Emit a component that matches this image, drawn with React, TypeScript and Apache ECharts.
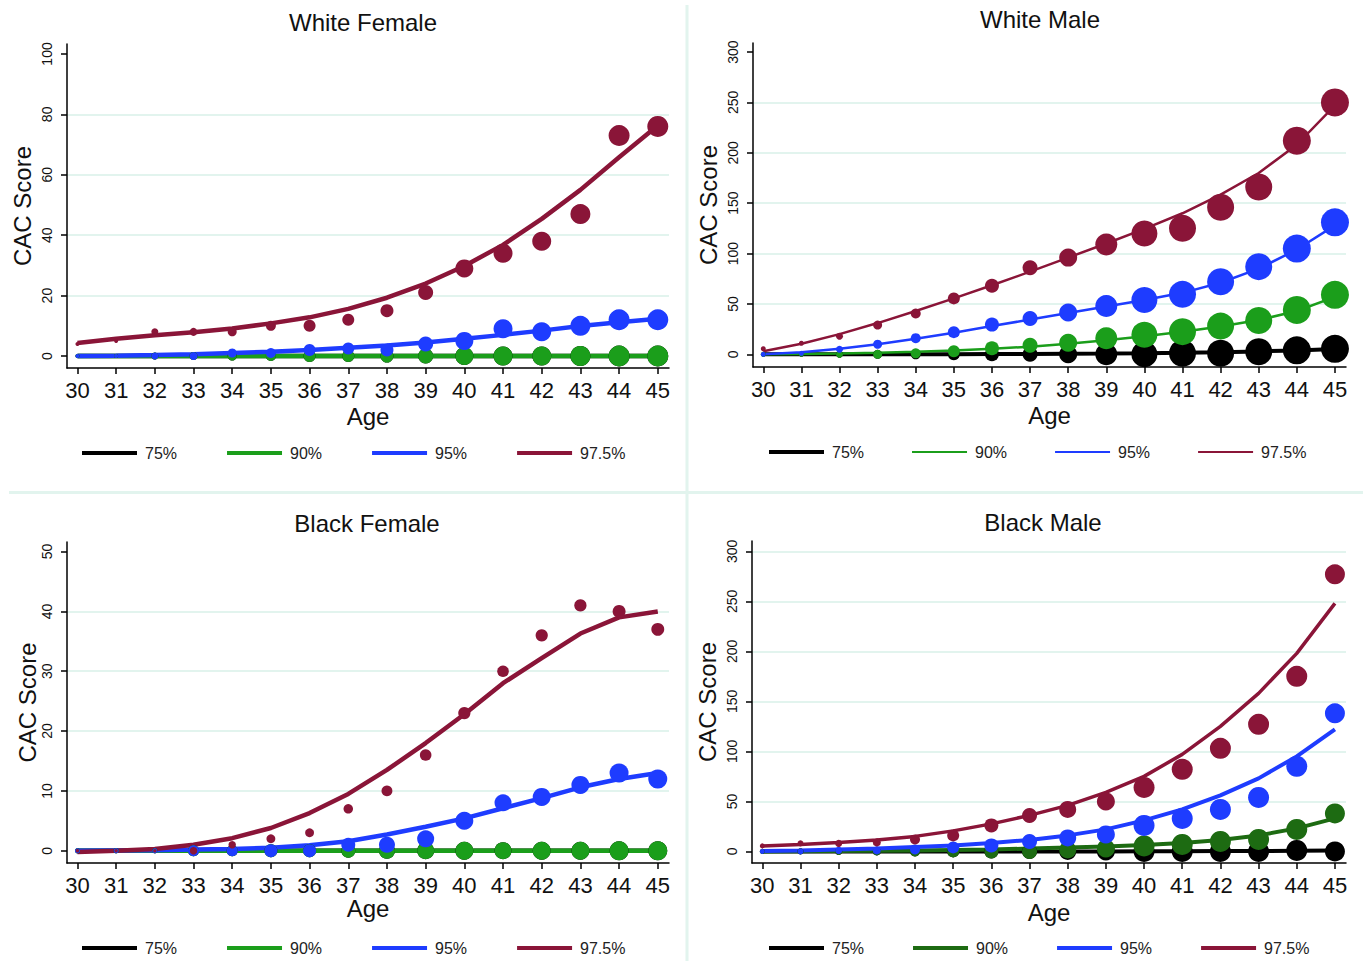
import React, { useEffect, useRef } from 'react';
import * as echarts from 'echarts';

// ---------- data ----------
const ages = [30, 31, 32, 33, 34, 35, 36, 37, 38, 39, 40, 41, 42, 43, 44, 45];
const percentiles = ['75%', '90%', '95%', '97.5%'];

// White Female
const wf75Obs = [0, 0, 0, 0, 0, 0, 0, 0, 0, 0, 0, 0, 0, 0, 0, 0];
const wf75Fit = [0, 0, 0, 0, 0, 0, 0, 0, 0, 0, 0, 0, 0, 0, 0, 0];
const wf90Obs = [0, 0, 0, 0, 0, 0, 0, 0, 0, 0, 0, 0, 0, 0, 0, 0];
const wf90Fit = [0, 0, 0, 0, 0, 0, 0, 0, 0, 0, 0, 0, 0, 0, 0, 0];
const wf95Obs = [0, 0, 0, 0, 1, 1, 2, 2.5, 2, 4, 5, 9, 8, 10, 12, 12];
const wf95Fit = [0, 0.1, 0.3, 0.6, 1, 1.4, 2, 2.7, 3.5, 4.5, 5.7, 7, 8.4, 9.9, 11.2, 12.3];
const wf975Obs = [4, 5, 8, 8, 8, 10, 10, 12, 15, 21, 29, 34, 38, 47, 73, 76];
const wf975Fit = [4.3, 5.7, 6.9, 7.9, 9.1, 10.8, 12.8, 15.6, 19.3, 24, 29.8, 36.8, 45.4, 55, 65.8, 76.3];
const wfMarker = [4, 4, 7, 8, 9, 10, 12, 12, 13, 15, 18, 19, 19, 20, 21, 21];

// White Male
const wm75Obs = [0, 0, 0, 0, 0, 0, 0, 0, 0, 0, 0, 1, 1, 2.5, 4, 5.5];
const wm75Fit = [0, 0, 0, 0, 0, 0.1, 0.2, 0.3, 0.5, 0.7, 1, 1.5, 2.1, 2.9, 3.9, 5.2];
const wm90Obs = [0, 0, 0, 0, 1, 3, 6, 9, 11.5, 16, 19.5, 22.5, 28, 33.5, 44, 59];
const wm90Fit = [0, 0.3, 0.8, 1.5, 2.5, 3.8, 5.5, 7.6, 10.5, 14, 18, 22.5, 27.5, 34, 43, 57];
const wm95Obs = [0, 1, 5, 10, 16, 22, 29.5, 35.5, 41.5, 48, 54, 59.5, 72, 87, 105, 131];
const wm95Fit = [0, 2, 5.5, 10, 15.5, 21.5, 28, 34.5, 41, 47.5, 54, 61, 71, 85, 104, 128];
const wm975Obs = [5.5, 11, 18, 29, 40.5, 55.5, 68, 86, 96, 109, 120, 125, 146, 166, 212, 250];
const wm975Fit = [3, 10.5, 20, 31, 43, 55.5, 68.5, 82, 96, 110, 124.5, 140, 158.5, 180, 208, 247];
const wmMarker = [5, 5, 7, 9, 10, 12, 14, 15, 18, 22, 26, 27, 27, 27, 28, 28];

// Black Female
const bf75Obs = [0, 0, 0, 0, 0, 0, 0, 0, 0, 0, 0, 0, 0, 0, 0, 0];
const bf75Fit = [0, 0, 0, 0, 0, 0, 0, 0, 0, 0, 0, 0, 0, 0, 0, 0];
const bf90Obs = [0, 0, 0, 0, 0, 0, 0, 0, 0, 0, 0, 0, 0, 0, 0, 0];
const bf90Fit = [0, 0, 0, 0, 0, 0, 0, 0, 0, 0, 0, 0, 0, 0, 0, 0];
const bf95Obs = [0, 0, 0, 0, 0, 0, 0, 1, 1, 2, 5, 8, 9, 11, 13, 12];
const bf95Fit = [0, 0.05, 0.1, 0.2, 0.3, 0.5, 0.9, 1.6, 2.7, 4, 5.4, 7.1, 8.8, 10.6, 12, 13];
const bf975Obs = [0, 0, 0, 0, 1, 2, 3, 7, 10, 16, 23, 30, 36, 41, 40, 37];
const bf975Fit = [-0.2, 0, 0.3, 1, 2.1, 3.8, 6.3, 9.5, 13.5, 18, 22.8, 28, 32.2, 36.3, 39, 40];
const bfMarker = [5, 5, 5, 11, 11, 13, 13, 14, 16, 17, 18, 17, 18, 18, 19, 19];

// Black Male
const bm75Obs = [0, 0, 0, 0, 0, 0, 0, 0, 0, 0, 0, 0, 0, 0, 1, 0];
const bm75Fit = [0, 0, 0, 0, 0, 0, 0, 0, 0, 0, 0.1, 0.2, 0.3, 0.4, 0.6, 0.8];
const bm90Obs = [0, 0, 0, 0, 0, 0, 0, 0, 1.5, 3, 5.5, 7, 10, 12, 22, 38];
const bm90Fit = [0, 0.2, 0.4, 0.7, 1, 1.5, 2, 2.8, 3.8, 5, 6.5, 8.5, 11.5, 16, 23, 33];
const bm95Obs = [0, 0, 1, 1, 2, 4, 6, 10, 13.5, 17, 26, 33, 42, 54, 85, 138];
const bm95Fit = [0.5, 1, 2, 3, 4.5, 6, 8.5, 11.5, 16, 22, 31, 42, 56, 73, 95, 122];
const bm975Obs = [5.5, 8, 8, 9, 12, 16, 26, 36, 42, 50, 64, 82, 103, 127, 175, 277];
const bm975Fit = [5.5, 7, 9, 11.5, 15, 20.5, 27.5, 36, 46, 59, 75, 97, 125, 158, 198, 248];
const bmMarker = [5, 6, 7, 8, 10, 12, 14, 15, 17, 18, 21, 21, 21, 21, 21, 20];

const yTicks100 = [0, 20, 40, 60, 80, 100];
const yTicks300 = [0, 50, 100, 150, 200, 250, 300];
const yTicks50 = [0, 10, 20, 30, 40, 50];
const grid100 = [20, 40, 60, 80];
const gridWM = [50, 100, 150, 200, 250];
const grid50 = [10, 20, 30, 40];
const gridBM = [50, 100, 150, 200, 250, 300];

// ---------- styling ----------
const FONT = "'Liberation Sans', Arial, Helvetica, sans-serif";
const BLACK = '#000000';
const GREEN = '#1b9e1b';
const DKGREEN = '#1d6b12';
const BLUE = '#1e3cff';
const MAROON = '#8a1538';
const GRIDC = '#e2f4ee';

const panels = [
  {
    key: 'WF', title: 'White Female', titleX: 363, titleY: 10,
    obs: [wf75Obs, wf90Obs, wf95Obs, wf975Obs], fit: [wf75Fit, wf90Fit, wf95Fit, wf975Fit],
    marker: wfMarker, markerScale: [1, 1, 1, 1],
    colors: [BLACK, GREEN, BLUE, MAROON], widths: [4.5, 4.5, 4.5, 4.5], legendWidths: [4, 4, 4, 4],
    grid: { left: 67, top: 44, width: 602, height: 324 }, yMin: -3.97, yMax: 103.3,
    yTicks: yTicks100, gridLines: grid100, legendLeft: 80, legendTop: 445, legendGap: 48,
    yNameGap: 33, xNameGap: 36,
  },
  {
    key: 'WM', title: 'White Male', titleX: 1040, titleY: 7,
    obs: [wm75Obs, wm90Obs, wm95Obs, wm975Obs], fit: [wm75Fit, wm90Fit, wm95Fit, wm975Fit],
    marker: wmMarker, markerScale: [1, 1, 1, 1],
    colors: [BLACK, GREEN, BLUE, MAROON], widths: [4, 2.5, 2.5, 2.5], legendWidths: [4, 2, 2, 2],
    grid: { left: 753, top: 43, width: 593, height: 324 }, yMin: -12.6, yMax: 309,
    yTicks: yTicks300, gridLines: gridWM, legendLeft: 767, legendTop: 444, legendGap: 47,
    yNameGap: 33, xNameGap: 36,
  },
  {
    key: 'BF', title: 'Black Female', titleX: 367, titleY: 511,
    obs: [bf75Obs, bf90Obs, bf95Obs, bf975Obs], fit: [bf75Fit, bf90Fit, bf95Fit, bf975Fit],
    marker: bfMarker, markerScale: [1, 1, 1, 0.68],
    colors: [BLACK, GREEN, BLUE, MAROON], widths: [4.5, 4.5, 4.5, 4.5], legendWidths: [4, 4, 4, 4],
    grid: { left: 67, top: 542, width: 602, height: 321 }, yMin: -2.05, yMax: 51.6,
    yTicks: yTicks50, gridLines: grid50, legendLeft: 80, legendTop: 940, legendGap: 48,
    yNameGap: 28, xNameGap: 33,
  },
  {
    key: 'BM', title: 'Black Male', titleX: 1043, titleY: 510,
    obs: [bm75Obs, bm90Obs, bm95Obs, bm975Obs], fit: [bm75Fit, bm90Fit, bm95Fit, bm975Fit],
    marker: bmMarker, markerScale: [1, 1, 1, 1],
    colors: [BLACK, DKGREEN, BLUE, MAROON], widths: [4, 4, 4, 3.5], legendWidths: [4, 4, 4, 4],
    grid: { left: 752, top: 541, width: 594, height: 322 }, yMin: -11.6, yMax: 310.3,
    yTicks: yTicks300, gridLines: gridBM, legendLeft: 767, legendTop: 940, legendGap: 47,
    yNameGap: 33, xNameGap: 37,
  },
];

function buildOption() {
  const grids: any[] = [];
  const xAxes: any[] = [];
  const yAxes: any[] = [];
  const series: any[] = [];
  const titles: any[] = [];
  const legends: any[] = [];

  panels.forEach((p, i) => {
    grids.push({ ...p.grid, containLabel: false });
    titles.push({
      text: p.title, left: p.titleX, top: p.titleY, textAlign: 'center', padding: 0,
      textStyle: { fontSize: 24, fontWeight: 'normal', color: '#111', fontFamily: FONT, lineHeight: 24 },
    });
    xAxes.push({
      type: 'value', gridIndex: i, min: 29.73, max: 45.29,
      axisLine: { show: true, onZero: false, lineStyle: { color: '#000', width: 1.5 } },
      axisTick: { show: true, length: 6, customValues: ages, lineStyle: { color: '#000', width: 1.5 } },
      axisLabel: {
        customValues: ages, fontSize: 22, color: '#111', margin: 11, fontFamily: FONT,
        formatter: (v: number) => (Number.isInteger(v) ? String(v) : ''),
      },
      splitLine: { show: false },
      name: 'Age', nameLocation: 'middle', nameGap: p.xNameGap,
      nameTextStyle: { fontSize: 24, color: '#111', fontFamily: FONT },
    });
    yAxes.push({
      type: 'value', gridIndex: i, min: p.yMin, max: p.yMax,
      axisLine: { show: true, onZero: false, lineStyle: { color: '#000', width: 1.5 } },
      axisTick: { show: true, length: 6, customValues: p.yTicks, lineStyle: { color: '#000', width: 1.5 } },
      axisLabel: {
        customValues: p.yTicks, rotate: 90, fontSize: 14, color: '#111', margin: 13, fontFamily: FONT,
        formatter: (v: number) => (p.yTicks.indexOf(v) >= 0 ? String(v) : ''),
      },
      splitLine: { show: false },
      name: 'CAC Score', nameLocation: 'middle', nameGap: p.yNameGap, nameRotate: 90,
      nameTextStyle: { fontSize: 24, color: '#111', fontFamily: FONT },
    });

    // gridlines
    series.push({
      type: 'line', xAxisIndex: i, yAxisIndex: i, data: [], silent: true, z: 0,
      markLine: {
        silent: true, symbol: ['none', 'none'], label: { show: false }, z: 0,
        lineStyle: { color: GRIDC, width: 2, type: 'solid' },
        data: p.gridLines.map((v) => ({ yAxis: v })),
      },
    });

    const legendData: any[] = [];
    percentiles.forEach((pct, k) => {
      const name = `${pct}|${p.key}`;
      legendData.push({ name, lineStyle: { width: p.legendWidths[k], color: p.colors[k] } });
      series.push({
        name, type: 'line', xAxisIndex: i, yAxisIndex: i,
        data: ages.map((a, j) => [a, p.fit[k][j]]),
        symbol: 'none', showSymbol: false, smooth: false, z: 2,
        lineStyle: { color: p.colors[k], width: p.widths[k] },
        itemStyle: { color: p.colors[k] },
      });
      series.push({
        name: `${pct} obs|${p.key}`, type: 'scatter', xAxisIndex: i, yAxisIndex: i,
        data: ages.map((a, j) => [a, p.obs[k][j]]),
        symbol: 'circle',
        symbolSize: (_v: any, params: any) => p.marker[params.dataIndex] * p.markerScale[k],
        itemStyle: { color: p.colors[k], opacity: 1 }, z: 2,
      });
    });

    legends.push({
      left: p.legendLeft, top: p.legendTop, orient: 'horizontal', padding: 0,
      itemWidth: 55, itemHeight: 14, itemGap: p.legendGap, selectedMode: false,
      data: legendData,
      formatter: (n: string) => n.split('|')[0],
      itemStyle: { opacity: 0 },
      textStyle: { fontSize: 16, color: '#222', fontFamily: FONT, padding: [0, 0, 0, 3] },
    });
  });

  return {
    animation: false,
    backgroundColor: '#ffffff',
    title: titles,
    legend: legends,
    grid: grids,
    xAxis: xAxes,
    yAxis: yAxes,
    series,
    graphic: [
      { type: 'line', shape: { x1: 9, y1: 492.5, x2: 1363, y2: 492.5 }, style: { stroke: GRIDC, lineWidth: 3 }, z: -1, silent: true },
      { type: 'line', shape: { x1: 687, y1: 5, x2: 687, y2: 961 }, style: { stroke: GRIDC, lineWidth: 3 }, z: -1, silent: true },
    ],
  };
}

export default function App() {
  const ref = useRef<HTMLDivElement>(null);
  useEffect(() => {
    if (!ref.current) return;
    const chart = echarts.init(ref.current, null, { renderer: 'svg' });
    chart.setOption(buildOption() as any);
    return () => chart.dispose();
  }, []);
  return (
    <div
      ref={ref}
      style={{ position: 'absolute', left: 0, top: 0, width: 1363, height: 961, background: '#fff' }}
    />
  );
}
